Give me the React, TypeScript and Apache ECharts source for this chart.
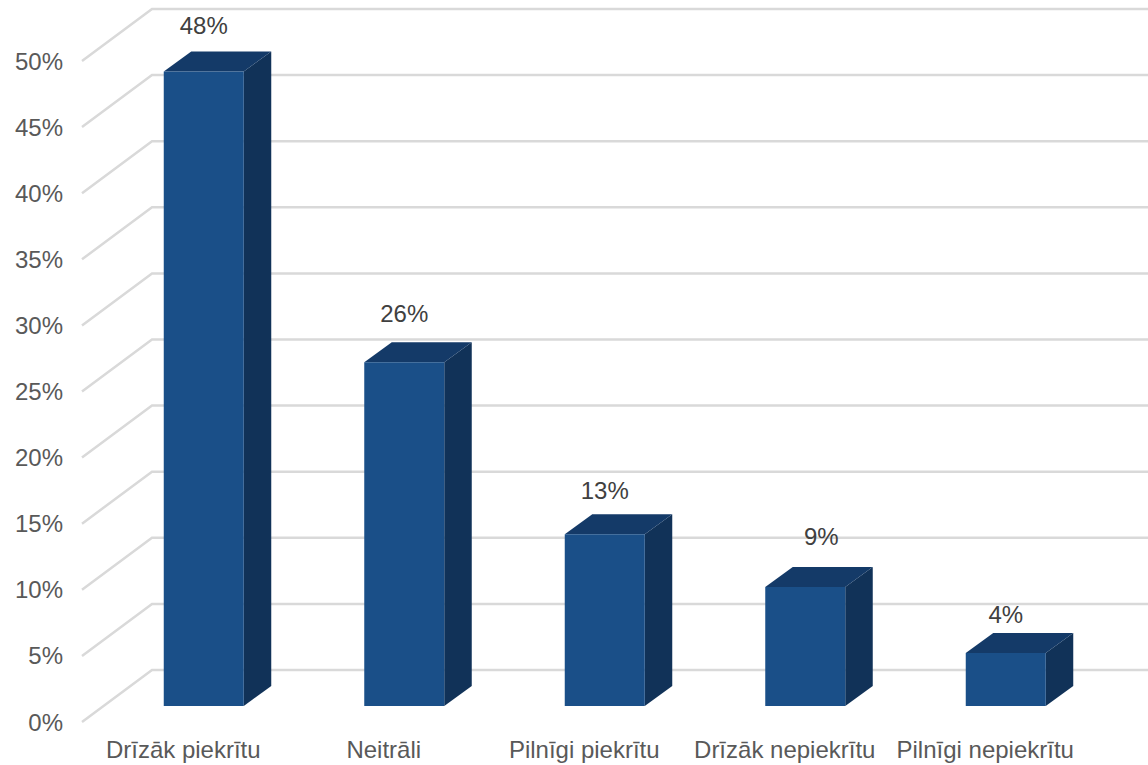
import React, { useEffect, useRef } from "react";
import * as echarts from "echarts";

const categories = ["Drīzāk piekrītu", "Neitrāli", "Pilnīgi piekrītu", "Drīzāk nepiekrītu", "Pilnīgi nepiekrītu"];
const values = [48, 26, 13, 9, 4];
const gridTicks = [0, 5, 10, 15, 20, 25, 30, 35, 40, 45, 50];
// Hand-placed data label nudges (px): distance above the bar's top-back edge, and sideways shift
const labelLift = [26, 29, 24, 31, 19];
const labelShift = [0, 0, 0, 16, 0];

const FONT = '"Liberation Sans", Arial, sans-serif';
const WALL_DX = 70, WALL_DY = 52;
const BAR_OFF_X = 21.5, BAR_OFF_Y = 16;
const BAR_W = 80, BAR_DX = 27.5, BAR_DY = 20;

export default function App() {
  const ref = useRef<HTMLDivElement>(null);
  useEffect(() => {
    const chart = echarts.init(ref.current!, undefined, { renderer: "svg" });
    chart.setOption({
      animation: false,
      backgroundColor: "#ffffff",
      grid: { left: 82, right: 63.5, top: 61, bottom: 43, containLabel: false },
      xAxis: {
        type: "category",
        data: categories,
        axisLine: { show: false },
        axisTick: { show: false },
        axisLabel: { interval: 0, color: "#595959", fontFamily: FONT, fontSize: 24, margin: 15, padding: [0, 0, 0, 2] },
      },
      yAxis: {
        type: "value",
        min: 0,
        max: 50,
        interval: 5,
        axisLine: { show: false },
        axisTick: { show: false },
        splitLine: { show: false },
        axisLabel: { formatter: "{value}%", color: "#595959", fontFamily: FONT, fontSize: 24, margin: 19, padding: [0, 0, 4, 0] },
      },
      series: [
        {
          type: "custom",
          silent: true,
          z: 1,
          data: gridTicks.map((v) => [0, v]),
          encode: { x: 0, y: 1 },
          renderItem: (params: any, api: any) => {
            const y = api.coord([0, api.value(1)])[1];
            const x0 = params.coordSys.x;
            return {
              type: "polyline",
              shape: { points: [[x0, y], [x0 + WALL_DX, y - WALL_DY], [api.getWidth(), y - WALL_DY]] },
              style: { stroke: "#d9d9d9", lineWidth: 2.5, fill: "none" },
            };
          },
        },
        {
          type: "custom",
          silent: true,
          z: 2,
          data: values.map((v, i) => [i, v]),
          encode: { x: 0, y: 1 },
          renderItem: (params: any, api: any) => {
            const i = api.value(0);
            const v = api.value(1);
            const top = api.coord([i, v]);
            const base = api.coord([i, 0]);
            const cx = top[0] + BAR_OFF_X;
            const l = cx - BAR_W / 2;
            const r = cx + BAR_W / 2;
            const t = top[1] - BAR_OFF_Y;
            const b = base[1] - BAR_OFF_Y;
            return {
              type: "group",
              children: [
                {
                  type: "polygon",
                  shape: { points: [[r, t], [r + BAR_DX, t - BAR_DY], [r + BAR_DX, b - BAR_DY], [r, b]] },
                  style: { fill: "#113258" },
                },
                {
                  type: "polygon",
                  shape: { points: [[l, t], [l + BAR_DX, t - BAR_DY], [r + BAR_DX, t - BAR_DY], [r, t]] },
                  style: { fill: "#143a68" },
                },
                {
                  type: "rect",
                  shape: { x: l, y: t, width: BAR_W, height: b - t },
                  style: { fill: "#1a4f88" },
                },
                {
                  type: "text",
                  style: {
                    text: v + "%",
                    x: cx + labelShift[i],
                    y: t - BAR_DY - labelLift[i],
                    fill: "#404040",
                    font: `24px ${FONT}`,
                    align: "center",
                    verticalAlign: "middle",
                  },
                },
              ],
            };
          },
        },
      ],
    });
    return () => chart.dispose();
  }, []);
  return <div ref={ref} style={{ position: "fixed", left: 0, top: 0, width: 1148, height: 765 }} />;
}
